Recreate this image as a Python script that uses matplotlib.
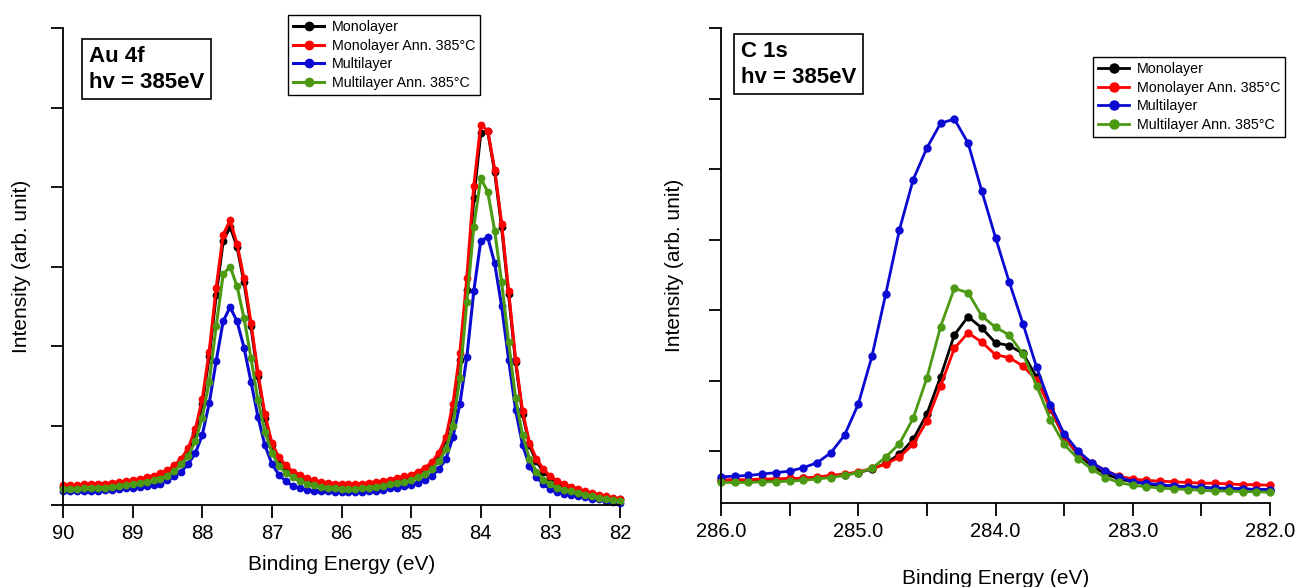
import numpy as np
import matplotlib
matplotlib.use("Agg")
import matplotlib.pyplot as plt
from matplotlib.ticker import MultipleLocator

plt.rcParams["font.family"] = ["Liberation Sans", "DejaVu Sans"]

labels = ["Monolayer", "Monolayer Ann. 385°C", "Multilayer", "Multilayer Ann. 385°C"]
colors = ["black", "#ff0000", "#0a0ad2", "#4c9a14"]

# Au 4f, 90.0 -> 82.0 eV in 0.1 eV steps
au_energy = np.round(np.arange(90.0, 81.95, -0.1), 1)
au_mono = [0.23, 0.23, 0.23, 0.24, 0.24, 0.25, 0.25, 0.26, 0.27, 0.28,
           0.29, 0.31, 0.33, 0.35, 0.38, 0.42, 0.48, 0.56, 0.68, 0.90,
           1.27, 1.87, 2.64, 3.32, 3.50, 3.25, 2.80, 2.25, 1.62, 1.10,
           0.76, 0.57, 0.47, 0.40, 0.35, 0.32, 0.29, 0.27, 0.26, 0.25,
           0.24, 0.24, 0.24, 0.25, 0.26, 0.27, 0.28, 0.30, 0.32, 0.34,
           0.36, 0.40, 0.45, 0.52, 0.63, 0.82, 1.20, 1.82, 2.70, 3.86,
           4.68, 4.70, 4.19, 3.50, 2.65, 1.80, 1.15, 0.75, 0.55, 0.42,
           0.34, 0.28, 0.24, 0.21, 0.18, 0.15, 0.13, 0.11, 0.09, 0.08,
           0.07]
au_mono_ann = [0.25, 0.25, 0.25, 0.26, 0.26, 0.27, 0.27, 0.28, 0.29, 0.30,
               0.31, 0.33, 0.35, 0.37, 0.40, 0.44, 0.50, 0.58, 0.72, 0.95,
               1.33, 1.93, 2.73, 3.40, 3.58, 3.28, 2.85, 2.29, 1.66, 1.14,
               0.78, 0.60, 0.50, 0.42, 0.38, 0.34, 0.31, 0.29, 0.28, 0.27,
               0.26, 0.26, 0.26, 0.27, 0.28, 0.29, 0.30, 0.32, 0.34, 0.36,
               0.38, 0.42, 0.47, 0.54, 0.66, 0.85, 1.27, 1.91, 2.85, 4.01,
               4.78, 4.71, 4.22, 3.54, 2.69, 1.83, 1.18, 0.78, 0.58, 0.45,
               0.36, 0.30, 0.26, 0.23, 0.20, 0.17, 0.15, 0.13, 0.11, 0.09,
               0.08]
au_multi = [0.17, 0.17, 0.17, 0.17, 0.18, 0.18, 0.19, 0.19, 0.20, 0.21,
            0.22, 0.23, 0.24, 0.25, 0.27, 0.31, 0.36, 0.42, 0.52, 0.65,
            0.88, 1.28, 1.81, 2.31, 2.49, 2.31, 1.98, 1.55, 1.11, 0.75,
            0.52, 0.38, 0.30, 0.24, 0.21, 0.19, 0.18, 0.17, 0.17, 0.16,
            0.16, 0.16, 0.16, 0.16, 0.17, 0.18, 0.19, 0.21, 0.22, 0.24,
            0.25, 0.28, 0.32, 0.37, 0.45, 0.58, 0.85, 1.27, 1.86, 2.69,
            3.32, 3.37, 3.04, 2.50, 1.83, 1.20, 0.76, 0.49, 0.35, 0.26,
            0.20, 0.16, 0.14, 0.12, 0.11, 0.10, 0.08, 0.07, 0.05, 0.04,
            0.03]
au_multi_ann = [0.20, 0.20, 0.20, 0.21, 0.21, 0.22, 0.22, 0.23, 0.24, 0.25,
                0.26, 0.28, 0.29, 0.31, 0.33, 0.37, 0.43, 0.51, 0.62, 0.80,
                1.10, 1.55, 2.25, 2.90, 3.00, 2.75, 2.35, 1.85, 1.32, 0.92,
                0.66, 0.49, 0.40, 0.35, 0.30, 0.27, 0.25, 0.23, 0.22, 0.21,
                0.20, 0.20, 0.20, 0.21, 0.22, 0.23, 0.24, 0.26, 0.28, 0.29,
                0.31, 0.35, 0.39, 0.45, 0.55, 0.70, 1.00, 1.60, 2.55, 3.50,
                4.11, 3.94, 3.45, 2.80, 2.05, 1.35, 0.88, 0.58, 0.42, 0.32,
                0.26, 0.22, 0.19, 0.17, 0.15, 0.13, 0.11, 0.09, 0.07, 0.06,
                0.05]

# C 1s, 286.0 -> 282.0 eV in 0.1 eV steps
c_energy = np.round(np.arange(286.0, 281.95, -0.1), 1)
c_mono = [0.59, 0.59, 0.59, 0.60, 0.60, 0.61, 0.62, 0.63, 0.65, 0.67, 0.70,
          0.75, 0.83, 0.96, 1.17, 1.53, 2.06, 2.65, 2.91, 2.75, 2.54,
          2.50, 2.39, 2.05, 1.60, 1.20, 0.96, 0.80, 0.68, 0.61, 0.57,
          0.54, 0.52, 0.51, 0.50, 0.49, 0.48, 0.47, 0.47, 0.46, 0.46]
c_mono_ann = [0.60, 0.60, 0.60, 0.61, 0.61, 0.62, 0.62, 0.64, 0.66, 0.68, 0.71,
              0.76, 0.82, 0.92, 1.10, 1.43, 1.93, 2.46, 2.68, 2.55, 2.37,
              2.33, 2.21, 2.01, 1.62, 1.20, 0.98, 0.84, 0.73, 0.65, 0.61,
              0.59, 0.58, 0.57, 0.56, 0.55, 0.55, 0.54, 0.53, 0.53, 0.52]
c_multi = [0.64, 0.65, 0.66, 0.68, 0.70, 0.72, 0.77, 0.84, 0.98, 1.23, 1.67,
           2.35, 3.23, 4.14, 4.85, 5.30, 5.65, 5.71, 5.37, 4.69, 4.03,
           3.40, 2.81, 2.19, 1.66, 1.25, 1.01, 0.84, 0.73, 0.64, 0.57,
           0.55, 0.53, 0.51, 0.50, 0.49, 0.48, 0.48, 0.47, 0.46, 0.46]
c_multi_ann = [0.56, 0.56, 0.56, 0.57, 0.57, 0.58, 0.59, 0.61, 0.63, 0.66, 0.70,
               0.76, 0.92, 1.11, 1.47, 2.04, 2.77, 3.31, 3.25, 2.92, 2.76,
               2.65, 2.38, 1.93, 1.45, 1.10, 0.90, 0.75, 0.63, 0.56, 0.52,
               0.50, 0.48, 0.47, 0.46, 0.45, 0.44, 0.44, 0.43, 0.43, 0.42]

fig = plt.figure(figsize=(12.95, 5.87), dpi=100)
ax1 = fig.add_axes([63 / 1295, 1 - 505 / 587, 557 / 1295, 477 / 587])
ax2 = fig.add_axes([721 / 1295, 1 - 503 / 587, 549 / 1295, 475 / 587])

for ys, c, lab in zip([au_mono, au_mono_ann, au_multi, au_multi_ann], colors, labels):
    ax1.plot(au_energy, ys, "-o", color=c, lw=2.2, ms=4.6, label=lab, clip_on=False)
for ys, c, lab in zip([c_mono, c_mono_ann, c_multi, c_multi_ann], colors, labels):
    ax2.plot(c_energy, ys, "-o", color=c, lw=2.0, ms=5, label=lab, clip_on=False)

ax1.set_xlim(90, 82)
ax1.set_ylim(0, 6)
ax1.set_yticks(range(0, 7))
ax1.set_xticks(range(82, 91))
ax1.set_xticklabels([str(v) for v in range(82, 91)])

ax2.set_xlim(286, 282)
ax2.set_ylim((522 - 503) / 70.5, 7)
ax2.set_yticks(range(1, 8))
ax2.set_xticks([286, 285, 284, 283, 282])
ax2.set_xticklabels(["286.0", "285.0", "284.0", "283.0", "282.0"])
ax2.xaxis.set_minor_locator(MultipleLocator(0.5))

for ax in (ax1, ax2):
    ax.set_yticklabels([])
    for s in ("top", "right"):
        ax.spines[s].set_visible(False)
    for s in ("left", "bottom"):
        ax.spines[s].set_linewidth(1.3)
    ax.tick_params(axis="both", which="both", direction="out", width=1.3,
                   length=9, labelsize=14.5, pad=5)

ax1.set_ylabel("Intensity (arb. unit)", fontsize=15, labelpad=9)
ax2.set_ylabel("Intensity (arb. unit)", fontsize=15, labelpad=13)
ax1.set_xlabel("Binding Energy (eV)", fontsize=15, labelpad=8)
ax2.set_xlabel("Binding Energy (eV)", fontsize=15, labelpad=20)

box = dict(boxstyle="square,pad=0.3", fc="white", ec="black", lw=1.2)
fig.text(89 / 1295, 1 - 46 / 587, "Au 4f\nhv = 385eV", fontsize=16,
         fontweight="bold", va="top", ha="left", linespacing=1.3, bbox=box)
fig.text(741 / 1295, 1 - 41 / 587, "C 1s\nhv = 385eV", fontsize=16,
         fontweight="bold", va="top", ha="left", linespacing=1.3, bbox=box)

leg_kw = dict(fontsize=10.3, frameon=True, fancybox=False, edgecolor="black",
              framealpha=1, borderpad=0.35, labelspacing=0.32, handlelength=2.2,
              handletextpad=0.5, borderaxespad=0, markerscale=1.3)
l1 = ax1.legend(loc="upper left", bbox_to_anchor=(288 / 1295, 1 - 15 / 587),
                bbox_transform=fig.transFigure, **leg_kw)
l2 = ax2.legend(loc="upper left", bbox_to_anchor=(1093 / 1295, 1 - 57 / 587),
                bbox_transform=fig.transFigure, **leg_kw)
for l in (l1, l2):
    l.get_frame().set_linewidth(1.0)

fig.savefig("out.png", dpi=100)
